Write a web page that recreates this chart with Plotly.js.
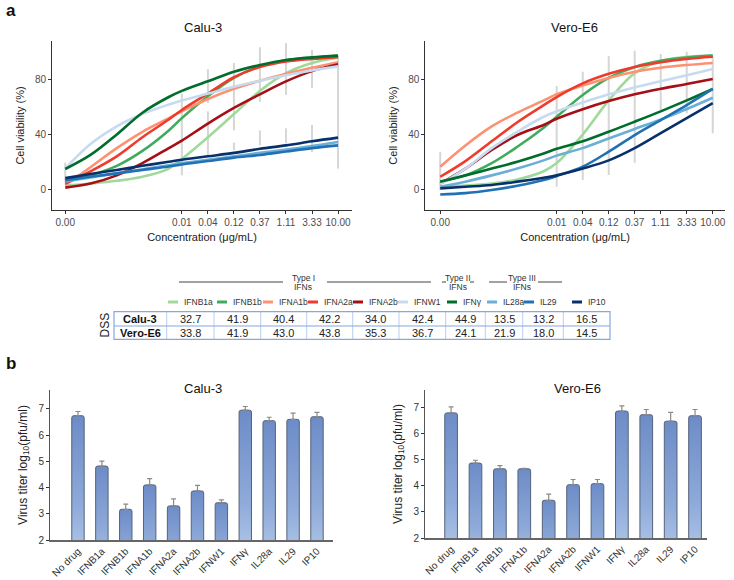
<!DOCTYPE html>
<html><head><meta charset="utf-8">
<script src="https://cdn.plot.ly/plotly-3.0.1.min.js"></script>
<style>html,body{margin:0;padding:0;background:#fff}#chart{width:734px;height:580px}</style>
</head><body><div id="chart"></div>
<script>
// ---------- data ----------
const seriesNames = ["IFNB1a","IFNB1b","IFNA1b","IFNA2a","IFNA2b","IFNW1","IFNγ","IL28a","IL29","IP10"];
const seriesColors = ["#a1d99b","#41ab5d","#fc9272","#ef3b2c","#a50f15","#c6dbef","#006d2c","#6baed6","#2171b5","#08306b"];

// concentration grid (µg/mL); 0.00 is drawn at 1e-4 on the log axis
const concGrid = [1e-4, 2.9e-4, 8.8e-4, 2.6e-3, 7.9e-3, 0.0137, 0.0412, 0.1235, 0.370, 1.111, 3.333, 10];
const concTickVals = [1e-4, 0.0137, 0.0412, 0.1235, 0.370, 1.111, 3.333, 10];
const concTickText = ["0.00","0.01","0.04","0.12","0.37","1.11","3.33","10.00"];

// Cell viability (%) – Calu-3
const caluIFNB1a = [2.5, 4, 6, 9, 15, 22, 38, 55, 72, 85, 92.5, 96.5];
const caluIFNB1b = [5.4, 10, 17, 28, 43, 52, 68, 81.5, 90, 94.5, 96.5, 97.8];
const caluIFNA1b = [3, 16, 30, 42, 52, 57, 66, 73.5, 79.5, 84.5, 89, 93];
const caluIFNA2a = [4, 13, 24, 38, 51, 58, 70, 82, 89.5, 93.5, 95.5, 96.8];
const caluIFNA2b = [1, 4, 10, 19, 30, 35.5, 48, 59.5, 69.5, 79, 86.5, 91.5];
const caluIFNW1  = [15, 33, 46, 55, 62, 65, 70, 75, 79.5, 83.5, 87, 90];
const caluIFNg   = [14.7, 25, 40, 56, 67.5, 72, 79, 86, 91, 94.7, 96.6, 97.9];
const caluIL28a  = [5.5, 8.5, 11.5, 14.5, 17.5, 19, 21.5, 24, 26.5, 29, 31.5, 34.5];
const caluIL29   = [6.5, 9, 11.5, 14, 16.5, 18, 20.5, 23, 25, 27.5, 30, 32];
const caluIP10   = [8, 11, 14, 17, 20, 21.5, 24, 26.5, 29.5, 32, 35, 37.7];

// Cell viability (%) – Vero-E6
const veroIFNB1a = [2, 2.5, 4, 7, 13, 19, 40, 65, 85, 94, 97, 98];
const veroIFNB1b = [5.4, 10, 19, 31, 45, 53, 69, 81.5, 89.5, 94, 96.4, 97.9];
const veroIFNA1b = [16.4, 32, 46, 56, 65, 69.5, 76, 81.5, 86, 89, 91, 92.5];
const veroIFNA2a = [9, 20.5, 35, 49, 61.5, 67.5, 77.5, 84.5, 89.5, 93, 95.4, 97];
const veroIFNA2b = [4, 15, 28.6, 39.6, 47, 51.5, 58.5, 64.5, 69.5, 73.5, 77, 80.7];
const veroIFNW1  = [3.5, 15, 30, 42, 53, 57, 63.5, 69.5, 74.5, 79, 83.5, 88];
const veroIFNg   = [5.4, 10, 15, 20, 26, 29.5, 35, 42, 49.4, 57, 65, 73.4];
const veroIL28a  = [1.7, 5.4, 10, 15, 21, 24.5, 30, 37, 44, 51, 58.7, 67];
const veroIL29   = [-4, -3, -0.7, 2.4, 6.6, 9.5, 16.4, 27.4, 39.6, 50.6, 61.6, 73.4];
const veroIP10   = [0.5, 1.7, 3, 5.4, 8.3, 10, 15, 21, 30, 41, 52, 63];

// spread of replicate measurements (grey vertical ranges)
const caluSpreadConc = [1e-4, 0.0137, 0.0412, 0.0412, 0.1235, 0.1235, 0.370, 0.370, 1.111, 1.111, 3.333, 3.333, 10];
const caluSpreadLow  = [5.4, 10, 63, 25, 43, 28.6, 64, 32, 69, 33.5, 74, 27, 15];
const caluSpreadHigh = [19.3, 70, 88, 57, 92.5, 34, 104, 43, 107, 44.5, 102, 47, 98];
const veroSpreadConc = [1e-4, 0.0137, 0.0412, 0.1235, 0.370, 1.111, 3.333, 10];
const veroSpreadLow  = [-0.7, 1.7, 6.6, 10.3, 19.3, 58, 55.5, 41];
const veroSpreadHigh = [27.4, 75.6, 86, 97.6, 101.5, 99, 100.8, 97];

// DSS table
const dssRows = ["Calu-3", "Vero-E6"];
const dssCalu = [32.7, 41.9, 40.4, 42.2, 34.0, 42.4, 44.9, 13.5, 13.2, 16.5];
const dssVero = [33.8, 41.9, 43.0, 43.8, 35.3, 36.7, 24.1, 21.9, 18.0, 14.5];
const ifnGroups = ["Type I", "Type II", "Type III"];
const ifnGroupSub = "IFNs";

// Virus titer log10(pfu/ml)
const barCategories = ["No drug","IFNB1a","IFNB1b","IFNA1b","IFNA2a","IFNA2b","IFNW1","IFNγ","IL28a","IL29","IP10"];
const caluTiter = [6.74, 4.82, 3.17, 4.1, 3.3, 3.87, 3.42, 6.95, 6.55, 6.6, 6.7];
const caluTiterErr = [0.16, 0.19, 0.2, 0.24, 0.27, 0.21, 0.11, 0.14, 0.13, 0.24, 0.17];
const veroTiter = [6.81, 4.88, 4.66, 4.66, 3.45, 4.05, 4.09, 6.88, 6.74, 6.49, 6.7];
const veroTiterErr = [0.23, 0.11, 0.12, 0.02, 0.24, 0.2, 0.16, 0.2, 0.2, 0.34, 0.24];

// ---------- helpers ----------
const W = 734, H = 580;
const px = x => x / W;
const py = y => 1 - y / H;
const FONT = "Liberation Sans, Arial, sans-serif";

const caluSeries = [caluIFNB1a, caluIFNB1b, caluIFNA1b, caluIFNA2a, caluIFNA2b, caluIFNW1, caluIFNg, caluIL28a, caluIL29, caluIP10];
const veroSeries = [veroIFNB1a, veroIFNB1b, veroIFNA1b, veroIFNA2a, veroIFNA2b, veroIFNW1, veroIFNg, veroIL28a, veroIL29, veroIP10];

function spreadTrace(conc, lo, hi, xa, ya) {
  const x = [], y = [];
  conc.forEach((c, i) => { x.push(c, c, null); y.push(lo[i], hi[i], null); });
  return {type: "scatter", mode: "lines", x, y, xaxis: xa, yaxis: ya,
          line: {color: "#d6d6d6", width: 2}, hoverinfo: "skip", showlegend: false};
}

const traces = [];
traces.push(spreadTrace(caluSpreadConc, caluSpreadLow, caluSpreadHigh, "x", "y"));
traces.push(spreadTrace(veroSpreadConc, veroSpreadLow, veroSpreadHigh, "x2", "y2"));
[[caluSeries, "x", "y"], [veroSeries, "x2", "y2"]].forEach(([set, xa, ya]) => {
  set.forEach((vals, i) => {
    traces.push({type: "scatter", mode: "lines", x: concGrid, y: vals, xaxis: xa, yaxis: ya,
      name: seriesNames[i], line: {color: seriesColors[i], width: 2.6, shape: "spline", smoothing: 1},
      showlegend: false});
  });
});

function barTrace(vals, errs, xa, ya) {
  return {type: "bar", x: barCategories, y: vals, xaxis: xa, yaxis: ya, width: 0.52,
    marker: {color: "#94aedc", line: {color: "#56627a", width: 1}, cornerradius: 2},
    error_y: {type: "data", symmetric: false, array: errs, arrayminus: errs.map(() => 0),
              color: "#8a8a8a", thickness: 1.2, width: 2.5},
    showlegend: false};
}
traces.push(barTrace(caluTiter, caluTiterErr, "x3", "y3"));
traces.push(barTrace(veroTiter, veroTiterErr, "x4", "y4"));

const tickF = {family: FONT, size: 10, color: "#4d4d4d"};
const lineAxis = {showline: true, linecolor: "#333", linewidth: 1, ticks: "outside", ticklen: 3,
  tickcolor: "#333", tickfont: tickF, showgrid: false, zeroline: false};

function concAxis(domain, range) {
  return Object.assign({}, lineAxis, {type: "log", domain, range, tickvals: concTickVals, ticktext: concTickText,
    title: {text: "Concentration (μg/mL)", font: {family: FONT, size: 11, color: "#222"}, standoff: 6}});
}
function viaAxis(domain, anchor) {
  return Object.assign({}, lineAxis, {domain, anchor, range: [-15.4, 108.6], tickvals: [0, 40, 80],
    title: {text: "Cell viability (%)", font: {family: FONT, size: 11, color: "#222"}, standoff: 8}});
}
function catAxis(domain, range, anchor) {
  return {domain, range, anchor, type: "category", tickangle: -45, tickfont: {family: FONT, size: 10, color: "#333"},
    showline: true, linecolor: "#666", linewidth: 1.5, ticks: "", showgrid: false, zeroline: false};
}
function titerAxis(domain, range, anchor) {
  return Object.assign({}, lineAxis, {domain, range, anchor, dtick: 1, linecolor: "#555",
    tickfont: {family: FONT, size: 10, color: "#333"},
    title: {text: "Virus titer log<sub>10</sub>(pfu/ml)", font: {family: FONT, size: 12, color: "#222"}, standoff: 8}});
}

const topDom = [py(210), py(41)];
const layout = {
  width: W, height: H, margin: {l: 0, r: 0, t: 0, b: 0},
  paper_bgcolor: "#fff", plot_bgcolor: "#fff", showlegend: false,
  font: {family: FONT, color: "#222"},
  xaxis: Object.assign(concAxis([px(52), px(352)], [-4.243, 1.256]), {anchor: "y"}),
  yaxis: viaAxis(topDom, "x"),
  xaxis2: Object.assign(concAxis([px(425.3), px(725)], [-4.274, 1.225]), {anchor: "y2"}),
  yaxis2: viaAxis(topDom, "x2"),
  xaxis3: catAxis([px(50), px(333)], [-1.17, 10.67], "y3"),
  yaxis3: titerAxis([py(540), py(390)], [2, 7.72], "x3"),
  xaxis4: catAxis([px(425), px(707)], [-1.07, 10.49], "y4"),
  yaxis4: titerAxis([py(538), py(390)], [2, 7.69], "x4"),
  annotations: [], shapes: []
};

const ann = layout.annotations, shp = layout.shapes;
function txt(x, y, text, opts) {
  ann.push(Object.assign({xref: "paper", yref: "paper", x: px(x), y: py(y), text, showarrow: false,
    xanchor: "center", yanchor: "middle", font: {family: FONT, size: 11, color: "#222"}}, opts || {}));
}
function seg(x0, y0, x1, y1, color, width) {
  shp.push({type: "line", xref: "paper", yref: "paper", x0: px(x0), y0: py(y0), x1: px(x1), y1: py(y1),
    line: {color, width}});
}

// panel labels and titles
txt(11, 10, "a", {font: {family: FONT, size: 17, color: "#111", weight: "bold"}});
txt(11, 363, "b", {font: {family: FONT, size: 17, color: "#111", weight: "bold"}});
txt(203, 28, "Calu-3", {font: {family: FONT, size: 13, color: "#111"}});
txt(574, 28, "Vero-E6", {font: {family: FONT, size: 13, color: "#111"}});
txt(203, 388, "Calu-3", {font: {family: FONT, size: 13, color: "#111"}});
txt(577, 388, "Vero-E6", {font: {family: FONT, size: 13, color: "#111"}});

// group headers
const grpCenters = [303, 458, 522];
ifnGroups.forEach((g, i) => {
  txt(grpCenters[i], 278, g, {font: {family: FONT, size: 8.5, color: "#333"}});
  txt(grpCenters[i], 287, ifnGroupSub, {font: {family: FONT, size: 8.5, color: "#333"}});
});
[[179, 283], [327, 431], [442, 446], [470, 474], [489, 507], [538, 562]].forEach(([a, b]) => seg(a, 282, b, 282, "#444", 1));

// legend (line keys)
const legendX = [168, 217, 263, 308, 353, 398, 447, 487, 524, 572];
seriesNames.forEach((n, i) => {
  seg(legendX[i], 302, legendX[i] + 10, 302, seriesColors[i], 3);
  txt(legendX[i] + 14, 302, n, {xanchor: "left", font: {family: FONT, size: 8.5, color: "#333"}});
});

// DSS table
const colEdges = [114, 166.7, 214, 260.7, 306.7, 352.7, 399, 445.7, 485.3, 522.7, 563.3, 610];
const rowEdges = [311.7, 326, 339.3];
for (let c = 1; c < colEdges.length - 1; c++) seg(colEdges[c], rowEdges[0], colEdges[c], rowEdges[2], "#b9cdee", 1);
seg(114, rowEdges[1], 610, rowEdges[1], "#86a8e0", 1.2);
shp.push({type: "rect", xref: "paper", yref: "paper", x0: px(114), x1: px(610), y0: py(rowEdges[2]), y1: py(rowEdges[0]),
  line: {color: "#86a8e0", width: 1.2}});
[dssCalu, dssVero].forEach((vals, r) => {
  const yc = (rowEdges[r] + rowEdges[r + 1]) / 2;
  txt((colEdges[0] + colEdges[1]) / 2, yc, dssRows[r], {font: {family: FONT, size: 11, color: "#111", weight: "bold"}});
  vals.forEach((v, c) => txt((colEdges[c + 1] + colEdges[c + 2]) / 2, yc, v.toFixed(1), {font: {family: FONT, size: 11, color: "#222"}}));
});
txt(104, 325.5, "DSS", {textangle: -90, font: {family: FONT, size: 12, color: "#222"}});

Plotly.newPlot("chart", traces, layout, {displayModeBar: false, staticPlot: true}).then(gd => {
  const svg = gd.querySelector(".main-svg");
  const defs = svg.querySelector("defs");
  const ns = "http://www.w3.org/2000/svg";
  const grad = document.createElementNS(ns, "linearGradient");
  grad.setAttribute("id", "barGrad");
  grad.setAttribute("x1", "0"); grad.setAttribute("y1", "0");
  grad.setAttribute("x2", "0"); grad.setAttribute("y2", "1");
  [["0", "#6d8cc7"], ["0.5", "#8eaad9"], ["1", "#c9dcf3"]].forEach(([o, c]) => {
    const s = document.createElementNS(ns, "stop");
    s.setAttribute("offset", o); s.setAttribute("stop-color", c);
    grad.appendChild(s);
  });
  defs.appendChild(grad);
  gd.querySelectorAll(".barlayer .point path").forEach(p => { p.style.fill = "url(#barGrad)"; });
});
</script>
</body></html>
